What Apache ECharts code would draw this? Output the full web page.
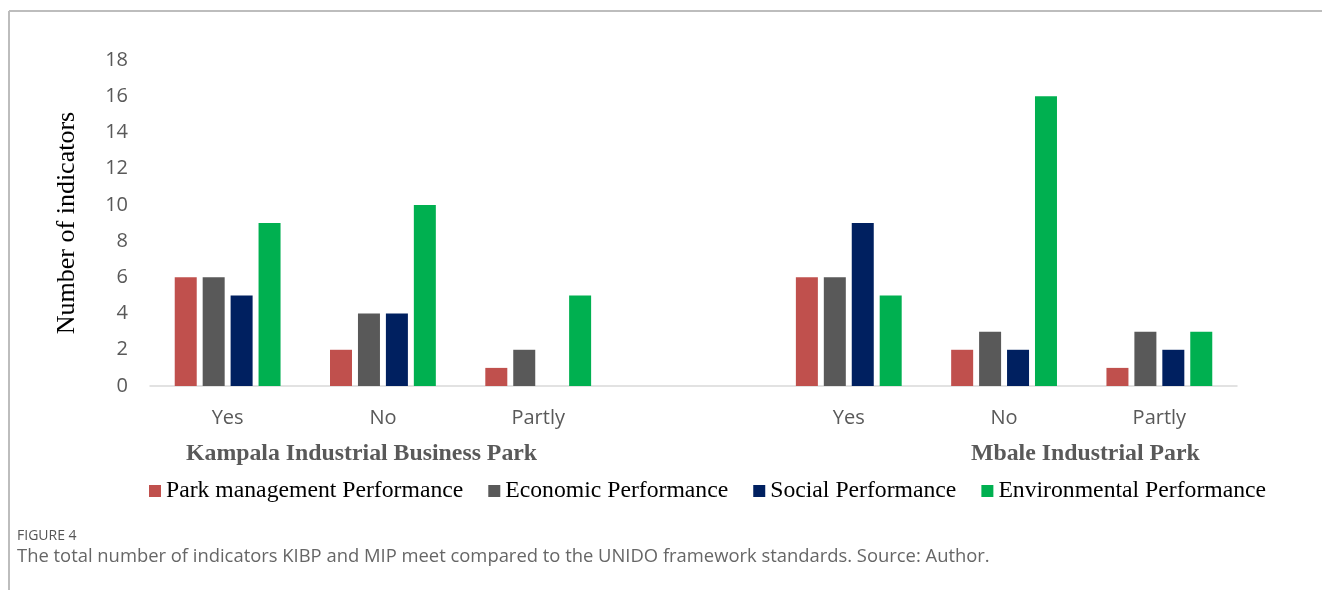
<!DOCTYPE html>
<html>
<head>
<meta charset="utf-8">
<script src="https://cdn.jsdelivr.net/npm/echarts@6/dist/echarts.min.js"></script>
<style>
  html, body { margin: 0; padding: 0; background: #fff; }
  #chart { width: 1322px; height: 590px; }
</style>
</head>
<body>
<div id="chart"></div>
<script>
// x categories: two parks, an empty slot between them
const categories = ['Yes', 'No', 'Partly', '', 'Yes', 'No', 'Partly'];
const parkManagement = [6, 2, 1, null, 6, 2, 1];
const economic = [6, 4, 2, null, 6, 3, 3];
const social = [5, 4, 0, null, 9, 2, 2];
const environmental = [9, 10, 5, null, 5, 16, 3];
const yTicks = [0, 2, 4, 6, 8, 10, 12, 14, 16, 18];

const seriesNames = [
  'Park management Performance',
  'Economic Performance',
  'Social Performance',
  'Environmental Performance',
];
const seriesColors = ['#c0504d', '#595959', '#002060', '#00b050'];
const seriesData = [parkManagement, economic, social, environmental];

const chart = echarts.init(document.getElementById('chart'));

const option = {
  animation: false,
  color: seriesColors,
  grid: {
    left: 150,
    right: 85,
    top: 60,
    bottom: 204,
  },
  legend: {
    left: 144,
    top: 474,
    itemWidth: 12,
    itemHeight: 12,
    itemGap: 25,
    icon: 'rect',
    textStyle: {
      fontFamily: 'Liberation Serif',
      fontSize: 23.7,
      color: '#000',
    },
    data: seriesNames,
  },
  xAxis: {
    type: 'category',
    data: categories,
    axisTick: { show: false },
    axisLine: { lineStyle: { color: '#d9d9d9', width: 1.5 } },
    axisLabel: {
      margin: 22,
      fontFamily: 'Open Sans',
      fontSize: 20,
      color: '#595959',
    },
  },
  yAxis: {
    type: 'value',
    min: yTicks[0],
    max: yTicks[yTicks.length - 1],
    interval: 2,
    splitLine: { show: false },
    axisLine: { show: false },
    axisLabel: {
      margin: 22,
      fontFamily: 'Open Sans',
      fontSize: 20,
      color: '#595959',
    },
    name: 'Number of indicators',
    nameLocation: 'middle',
    nameGap: 70,
    nameTextStyle: {
      fontFamily: 'Liberation Serif',
      fontSize: 26,
      color: '#000',
    },
  },
  series: seriesNames.map((name, i) => ({
    name,
    type: 'bar',
    barWidth: 22,
    barGap: '27%',
    data: seriesData[i],
    itemStyle: { color: seriesColors[i] },
  })),
  graphic: [
    {
      type: 'line',
      shape: { x1: 9, y1: 11, x2: 1322, y2: 11 },
      style: { stroke: '#bdbdbd', lineWidth: 2 },
    },
    {
      type: 'line',
      shape: { x1: 9, y1: 11, x2: 9, y2: 590 },
      style: { stroke: '#bdbdbd', lineWidth: 2 },
    },
    {
      type: 'text',
      left: 186,
      top: 442,
      style: {
        text: 'Kampala Industrial Business Park',
        font: 'bold 23.8px "Liberation Serif"',
        fill: '#595959',
      },
    },
    {
      type: 'text',
      left: 971,
      top: 442,
      style: {
        text: 'Mbale Industrial Park',
        font: 'bold 23.8px "Liberation Serif"',
        fill: '#595959',
      },
    },
    {
      type: 'text',
      left: 17,
      top: 529,
      style: {
        text: 'FIGURE 4',
        font: '14px "Open Sans"',
        fill: '#555',
      },
    },
    {
      type: 'text',
      left: 17,
      top: 548,
      style: {
        text: 'The total number of indicators KIBP and MIP meet compared to the UNIDO framework standards. Source: Author.',
        font: '18.4px "Open Sans"',
        fill: '#666',
      },
    },
  ],
};

chart.setOption(option);
</script>
</body>
</html>
